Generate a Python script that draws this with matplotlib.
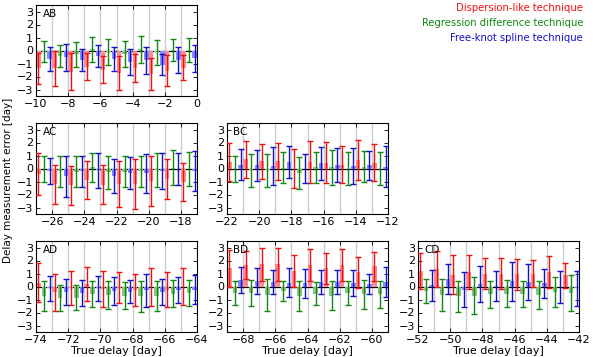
import numpy as np
import matplotlib
matplotlib.use('Agg')
import matplotlib.pyplot as plt

# first true delay of each panel (one cell per day, ten cells)
ab_start, ac_start, bc_start = -10, -27, -22
ad_start, bd_start, cd_start = -74, -69, -52

# Dispersion-like (red), regression difference (green), free-knot spline (blue)
# mean error and total error per true delay
ab_disp = [-1.38, -1.35, -1.62, -1.25, -1.48, -1.72, -1.35, -1.82, -1.55, -1.32]
ab_disp_err = [1.22, 1.35, 1.42, 1.05, 1.02, 1.32, 1.05, 1.22, 1.2, 0.98]
ab_regr = [-0.08, -0.42, -0.3, 0.08, -0.1, -0.28, 0.08, -0.15, 0.05, 0.05]
ab_regr_err = [0.82, 0.82, 0.95, 0.98, 1.0, 0.98, 1.02, 0.95, 0.85, 0.9]
ab_spl = [-0.68, -0.52, -0.72, -0.42, -0.62, -0.9, -0.75, -1.1, -0.72, -0.6]
ab_spl_err = [0.92, 1.02, 0.82, 0.82, 0.92, 1.0, 1.05, 0.8, 0.98, 1.05]

ac_disp = [-0.4, -1.2, -1.3, -0.9, -1.25, -1.2, -1.2, -0.95, -0.8, -1.05]
ac_disp_err = [1.6, 1.5, 1.5, 1.45, 1.5, 1.75, 1.9, 1.95, 1.55, 1.45]
ac_regr = [-0.05, -0.2, -0.25, 0.1, -0.3, -0.25, -0.2, -0.1, 0.05, -0.05]
ac_regr_err = [1.0, 1.2, 1.2, 1.1, 1.3, 1.2, 1.2, 1.3, 1.35, 1.3]
ac_spl = [-0.2, -0.6, -0.2, -0.15, -0.55, -0.35, -0.35, -0.2, -0.05, -0.18]
ac_spl_err = [1.0, 1.6, 1.2, 1.35, 1.3, 1.25, 1.5, 1.4, 1.25, 1.55]

bc_disp = [0.5, 0.7, 0.55, 0.55, 0.0, 0.5, 0.45, 0.3, 0.65, 0.45]
bc_disp_err = [1.45, 1.45, 1.35, 1.4, 1.5, 1.6, 1.6, 1.4, 1.55, 1.4]
bc_regr = [-0.05, -0.15, -0.15, 0.05, -0.35, 0.1, 0.1, 0.0, 0.15, 0.0]
bc_regr_err = [1.0, 1.3, 1.3, 1.2, 1.25, 1.2, 1.35, 1.3, 1.2, 1.25]
bc_spl = [0.3, 0.25, 0.2, 0.5, 0.0, 0.4, 0.3, 0.2, 0.25, 0.15]
bc_spl_err = [1.2, 1.2, 1.45, 1.2, 1.1, 1.25, 1.3, 1.4, 1.1, 1.55]

ad_disp = [0.27, -0.45, -0.1, 0.2, -0.2, -0.1, -0.25, -0.05, -0.25, 0.0]
ad_disp_err = [1.5, 1.4, 1.3, 1.3, 1.4, 1.2, 1.25, 1.45, 1.35, 1.45]
ad_regr = [-0.7, -0.85, -0.85, -0.6, -0.65, -0.7, -0.75, -0.7, -0.55, -0.5]
ad_regr_err = [1.15, 1.0, 0.95, 1.0, 1.1, 1.05, 1.2, 1.15, 1.05, 1.0]
ad_spl = [-0.15, -0.4, -0.5, -0.15, -0.35, -0.4, -0.3, -0.4, -0.3, -0.25]
ad_spl_err = [0.95, 1.0, 1.0, 0.95, 1.05, 0.9, 1.25, 1.0, 1.0, 1.1]

bd_disp = [1.4, 1.65, 1.7, 1.7, 1.2, 1.65, 1.4, 1.65, 1.1, 1.55]
bd_disp_err = [1.4, 1.1, 1.3, 1.25, 1.2, 1.2, 1.2, 1.2, 1.2, 1.1]
bd_regr = [-0.5, -0.5, -0.65, -0.35, -0.7, -0.55, -0.7, -0.5, -0.6, -0.6]
bd_regr_err = [0.95, 1.0, 1.2, 0.8, 1.15, 0.9, 1.1, 0.95, 1.1, 1.05]
bd_spl = [0.5, 0.4, 0.35, 0.3, 0.25, 0.35, 0.35, 0.3, 0.2, 0.35]
bd_spl_err = [1.0, 1.0, 0.95, 1.1, 1.1, 0.95, 0.9, 1.0, 0.8, 1.15]

cd_disp = [1.2, 1.35, 0.9, 1.1, 1.0, 1.0, 0.95, 1.0, 1.1, 0.85]
cd_disp_err = [1.4, 1.35, 1.5, 1.3, 1.2, 1.2, 1.2, 1.05, 1.25, 0.95]
cd_regr = [-0.35, -0.65, -0.75, -0.7, -0.6, -0.55, -0.55, -0.65, -0.45, -0.5]
cd_regr_err = [0.9, 1.25, 1.2, 1.45, 1.05, 1.05, 1.0, 1.1, 1.15, 1.35]
cd_spl = [0.1, 0.6, -0.25, 0.2, 0.05, 0.4, 0.35, 0.25, -0.05, -0.15]
cd_spl_err = [1.2, 1.15, 1.35, 1.4, 1.15, 1.5, 1.4, 1.1, 1.25, 1.35]

labels = ['Dispersion-like technique', 'Regression difference technique',
          'Free-knot spline technique']
colors = ['#ee1111', '#118811', '#1111cc']
light = ['#ff8a8a', '#8cc48c', '#8a8aff']
offsets = [0.15, 0.5, 0.85]

plt.rcParams['font.family'] = 'DejaVu Sans'
plt.rcParams['font.size'] = 7.5

fig = plt.figure(figsize=(6.0, 3.57), dpi=100)

W, H = 161 / 600, 91 / 357
lefts = [36 / 600, 227 / 600, 418 / 600]
bottoms = [1 - 96 / 357, 1 - 214 / 357, 1 - 332 / 357]

panels = [
    ('AB', 0, 0, ab_start, [ab_disp, ab_regr, ab_spl], [ab_disp_err, ab_regr_err, ab_spl_err]),
    ('AC', 1, 0, ac_start, [ac_disp, ac_regr, ac_spl], [ac_disp_err, ac_regr_err, ac_spl_err]),
    ('BC', 1, 1, bc_start, [bc_disp, bc_regr, bc_spl], [bc_disp_err, bc_regr_err, bc_spl_err]),
    ('AD', 2, 0, ad_start, [ad_disp, ad_regr, ad_spl], [ad_disp_err, ad_regr_err, ad_spl_err]),
    ('BD', 2, 1, bd_start, [bd_disp, bd_regr, bd_spl], [bd_disp_err, bd_regr_err, bd_spl_err]),
    ('CD', 2, 2, cd_start, [cd_disp, cd_regr, cd_spl], [cd_disp_err, cd_regr_err, cd_spl_err]),
]

for name, row, col, start, means, errs in panels:
    ax = fig.add_axes([lefts[col], bottoms[row], W, H])
    days = np.arange(start, start + 10)
    for d in range(start + 1, start + 10):
        ax.axvline(d, color='#cccccc', lw=1.0, zorder=0)
    ax.axhline(0, color='black', lw=0.9, zorder=1)
    for i in range(3):
        x = days + offsets[i]
        ax.bar(x, means[i], width=0.28, color=light[i], edgecolor='none', zorder=2)
        ax.errorbar(x, means[i], yerr=errs[i], fmt='none', ecolor=colors[i],
                    elinewidth=1.0, capsize=2.5, capthick=1.0, zorder=3)
    ax.set_xlim(start, start + 10)
    ax.set_ylim(-3.5, 3.5)
    ax.set_yticks(range(-3, 4))
    ax.set_xticks(range(start + start % 2, start + 11, 2))
    ax.tick_params(direction='in', top=True, right=True, length=3, width=0.6, pad=2,
                   labelsize=8)
    ax.text(0.04, 0.9, name, transform=ax.transAxes, ha='left', va='center')
    if row == 2:
        ax.set_xlabel('True delay [day]', labelpad=1, fontsize=8)

fig.text(8 / 600, 1 - 180 / 357, 'Delay measurement error [day]', rotation=90,
         ha='center', va='center')

for i in range(3):
    fig.text(583 / 600, 1 - (8 + 15 * i) / 357, labels[i], color=colors[i],
             ha='right', va='center', fontsize=7.2)

fig.savefig('out.png', dpi=100)
